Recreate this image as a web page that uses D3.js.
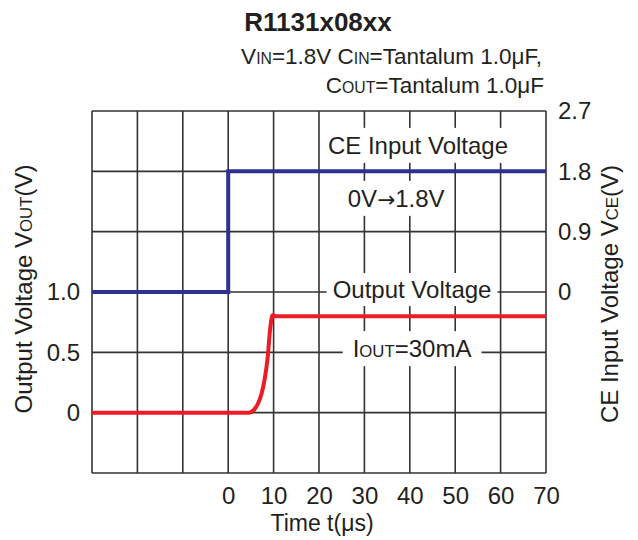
<!DOCTYPE html>
<html>
<head>
<meta charset="utf-8">
<script src="https://cdn.jsdelivr.net/npm/d3@7"></script>
<style>
  html, body { margin: 0; padding: 0; background: #fff; }
  svg { display: block; font-family: "Liberation Sans", Arial, Helvetica, sans-serif; }
</style>
</head>
<body>
<svg id="chart" width="638" height="540"></svg>
<script>
// Time axis (µs) and labelled ticks
const timeTicks = [0, 10, 20, 30, 40, 50, 60, 70];
const timeGrid = [-30, -20, -10, 0, 10, 20, 30, 40, 50, 60, 70];

// Left axis: output voltage (V)
const voutTicks = [0, 0.5, 1.0];
const voutTickLabels = ["0", "0.5", "1.0"];
const voutGrid = [-0.5, 0, 0.5, 1.0, 1.5, 2.0, 2.5];

// Right axis: CE input voltage (V)
const vceTicks = [0, 0.9, 1.8, 2.7];
const vceTickLabels = ["0", "0.9", "1.8", "2.7"];

// CE input step 0V -> 1.8V at t = 0
const ceTime = [-30, 0, 0, 70];
const ceVolt = [0, 0, 1.8, 1.8];

// Output voltage response, IOUT = 30mA
const outTime = [-30, 4.6, 5.6, 6.5, 7.3, 8.0, 8.7, 9.2, 9.8, 10.4, 70];
const outVolt = [0, 0, 0.02, 0.07, 0.15, 0.27, 0.46, 0.68, 0.81, 0.80, 0.80];

const svg = d3.select("#chart");
const plot = { left: 92, right: 546, top: 111, bottom: 473 };

const x = d3.scaleLinear().domain([-30, 70]).range([plot.left, plot.right]);
const yOut = d3.scaleLinear().domain([-0.5, 2.5]).range([plot.bottom, plot.top]);
const yCe = d3.scaleLinear().domain([-2.7, 2.7]).range([plot.bottom, plot.top]);

const gridColor = "#333";
const textColor = "#231f20";
const FS = 24;

// Grid
const grid = svg.append("g").attr("stroke", gridColor).attr("stroke-width", 1.6);
grid.selectAll("line.v").data(timeGrid).join("line")
  .attr("class", "v")
  .attr("x1", d => x(d)).attr("x2", d => x(d))
  .attr("y1", plot.top).attr("y2", plot.bottom);
grid.selectAll("line.h").data(voutGrid).join("line")
  .attr("class", "h")
  .attr("x1", plot.left).attr("x2", plot.right)
  .attr("y1", d => yOut(d)).attr("y2", d => yOut(d));

// Axes (labels only)
function styleAxis(g) {
  g.select(".domain").remove();
  g.selectAll(".tick line").remove();
  g.selectAll("text").attr("fill", textColor).attr("font-size", FS)
    .attr("font-family", "'Liberation Sans', Arial, sans-serif");
}
svg.append("g")
  .attr("transform", `translate(0,${plot.bottom})`)
  .call(d3.axisBottom(x).tickValues(timeTicks).tickSize(0).tickPadding(14).tickFormat(d3.format("d")))
  .call(styleAxis);
svg.append("g")
  .attr("transform", `translate(${plot.left},0)`)
  .call(d3.axisLeft(yOut).tickValues(voutTicks).tickSize(0).tickPadding(12)
    .tickFormat((d, i) => voutTickLabels[i]))
  .call(styleAxis);
svg.append("g")
  .attr("transform", `translate(${plot.right},0)`)
  .call(d3.axisRight(yCe).tickValues(vceTicks).tickSize(0).tickPadding(12)
    .tickFormat((d, i) => vceTickLabels[i]))
  .call(styleAxis);

// Text helper: parts are [text, style] where style is "sub" (small caps) or "sym"
function richText(g, parts, size) {
  const t = g.append("text").attr("fill", textColor).attr("font-size", size);
  parts.forEach(([s, style]) => {
    const ts = t.append("tspan").text(s);
    if (style === "sub") ts.attr("font-size", size * 0.7);
    if (style === "sym") ts.attr("font-family", "'DejaVu Sans', sans-serif").attr("font-size", size * 0.9);
  });
  return t;
}

// Annotation labels with white backing
function boxedLabel(parts, cx, baseY, padX, padY) {
  const g = svg.append("g");
  const t = richText(g, parts, FS).attr("x", cx).attr("y", baseY).attr("text-anchor", "middle");
  const b = t.node().getBBox();
  g.insert("rect", "text")
    .attr("x", b.x - padX).attr("y", b.y - padY)
    .attr("width", b.width + 2 * padX).attr("height", b.height + 2 * padY)
    .attr("fill", "#fff");
}

boxedLabel([["CE Input Voltage"]], x(41.8), yCe(2.06), 6, 4);
boxedLabel([["0V"], ["\u2192", "sym"], ["1.8V"]], x(37), yCe(1.27), 6, 4);
boxedLabel([["Output Voltage"]], x(40.5), yOut(0.95), 6, 3);
boxedLabel([["I"], ["OUT", "sub"], ["=30mA"]], x(40.5), yOut(0.46), 10, 4);

// Curves
const lineCe = d3.line().x(d => x(d[0])).y(d => yCe(d[1]));
svg.append("path")
  .datum(ceTime.map((t, i) => [t, ceVolt[i]]))
  .attr("d", lineCe)
  .attr("fill", "none").attr("stroke", "#2e3192").attr("stroke-width", 4)
  .attr("stroke-linejoin", "miter");

const lineOut = d3.line().x(d => x(d[0])).y(d => yOut(d[1])).curve(d3.curveMonotoneX);
svg.append("path")
  .datum(outTime.map((t, i) => [t, outVolt[i]]))
  .attr("d", lineOut)
  .attr("fill", "none").attr("stroke", "#ed1c24").attr("stroke-width", 4)
  .attr("stroke-linejoin", "round");

// Title and conditions
svg.append("text").attr("x", 318).attr("y", 31).attr("text-anchor", "middle")
  .attr("font-size", 26).attr("font-weight", "bold").attr("fill", textColor)
  .text("R1131x08xx");
richText(svg, [["V"], ["IN", "sub"], ["=1.8V C"], ["IN", "sub"], ["=Tantalum 1.0\u03bcF,"]], 22.5)
  .attr("x", 542).attr("y", 64).attr("text-anchor", "end");
richText(svg, [["C"], ["OUT", "sub"], ["=Tantalum 1.0\u03bcF"]], 22.5)
  .attr("x", 544).attr("y", 93).attr("text-anchor", "end");

// Axis titles
svg.append("text").attr("x", (plot.left + plot.right) / 2 + 3).attr("y", 531)
  .attr("text-anchor", "middle").attr("font-size", 23).attr("fill", textColor)
  .text("Time t(\u03bcs)");
richText(svg, [["Output Voltage V"], ["OUT", "sub"], ["(V)"]], FS)
  .attr("text-anchor", "middle")
  .attr("transform", `translate(32,289) rotate(-90)`);
richText(svg, [["CE Input Voltage V"], ["CE", "sub"], ["(V)"]], FS)
  .attr("text-anchor", "middle")
  .attr("transform", `translate(618,294) rotate(-90)`);
</script>
</body>
</html>
